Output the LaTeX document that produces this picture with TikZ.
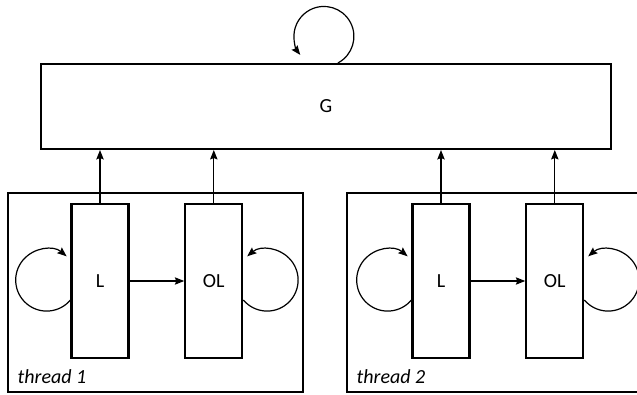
\documentclass[tikz,border=0pt]{standalone}
\usepackage{fontspec}
\setmainfont{Carlito}
\usetikzlibrary{
arrows.meta,
positioning
}

\begin{document}
\begin{tikzpicture}[
x=0.75pt, y=-0.75pt,
font=\fontsize{15}{18}\selectfont,
frame/.style={
rectangle,
draw,
line width=0.8pt,
minimum width=221.25pt,
minimum height=149.25pt
},
gbox/.style={
rectangle,
draw,
line width=1.6pt,
minimum width=427.5pt,
minimum height=63.75pt
},
lbox/.style={
rectangle,
draw,
fill=white,
line width=1.6pt,
minimum width=42.75pt,
minimum height=115.5pt
},
tag/.style={anchor=base west, inner sep=0pt, font=\fontsize{15}{18}\selectfont\itshape},
arrow/.style={-{Stealth[length=7pt,width=5.5pt,inset=1pt]},line width=0.9pt}
]

\clip (0,0) rectangle (637,394);

\node[frame] (T1) at (155.5,292.5) {};
\node[frame] (T2) at (494.5,292.5) {};
\node[tag] (lab1) at ([xshift=7.5pt,yshift=6.75pt]T1.south west) {thread 1};
\node[tag] (lab2) at ([xshift=7.5pt,yshift=6.75pt]T2.south west) {thread 2};

\node[gbox] (G) at (326,106.5) {G};

\node[lbox] (L1) at (100,281) {L};
\node[lbox, right=41pt of L1] (OL1) {OL};
\node[lbox] (L2) at (441,281) {L};
\node[lbox, right=41pt of L2] (OL2) {OL};

\draw[arrow] ([xshift=9pt]G.north) arc[start angle=62, end angle=-218, radius=30];

\foreach \n in {L1,OL1,L2,OL2}
  \draw[arrow] (\n.north) -- (\n.north |- G.south);

\draw[arrow] (L1) -- (OL1);
\draw[arrow] (L2) -- (OL2);

\draw[arrow] ([yshift=-14.25pt]L1.west) arc[start angle=40, end angle=310, radius=31];
\draw[arrow] ([yshift=-14.25pt]OL1.east) arc[start angle=140, end angle=-130, radius=31];
\draw[arrow] ([yshift=-14.25pt]L2.west) arc[start angle=40, end angle=310, radius=31];
\draw[arrow] ([yshift=-14.25pt]OL2.east) arc[start angle=140, end angle=-130, radius=31];

\end{tikzpicture}
\end{document}
